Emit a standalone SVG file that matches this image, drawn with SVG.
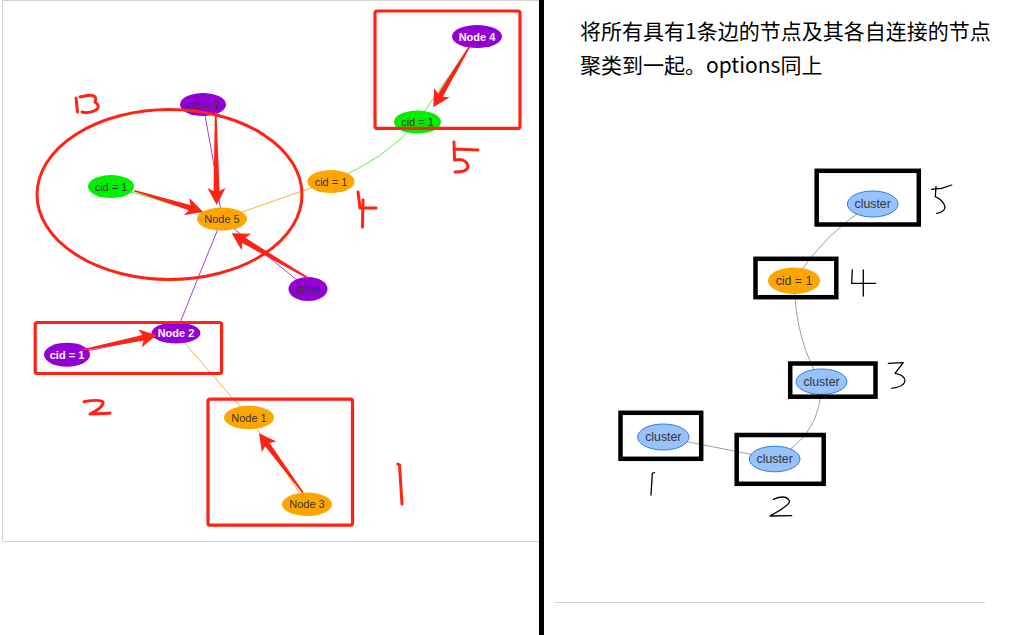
<svg xmlns="http://www.w3.org/2000/svg" width="1022" height="635" viewBox="0 0 1022 635">
<style>
.lbl{font-family:"Liberation Sans",Arial,sans-serif;font-size:11px;text-anchor:middle;fill:#343434}
.wb{fill:#ffffff;font-weight:bold}
.rl{font-family:"Liberation Sans",Arial,sans-serif;font-size:12.3px;text-anchor:middle;fill:#343434}
.or{fill:#ffa500}
.gr{fill:#00ee00}
.pu{fill:#9400d3}
.cl{fill:#97c2fc;stroke:#2b7ce9;stroke-width:1}
.eo{stroke:#ffb030;stroke-width:1;fill:none}
.eg{stroke:#55ee55;stroke-width:1;fill:none}
.ep{stroke:#a040e0;stroke-width:1;fill:none}
.ey{stroke:#a0a0a0;stroke-width:1;fill:none}
.rbox{fill:none;stroke:#ff2215;stroke-width:3.2}
.bbox{fill:none;stroke:#000;stroke-width:4.5}
.arr{fill:#ff2215}
.hr{fill:none;stroke:#ff2215;stroke-width:3;stroke-linecap:round;stroke-linejoin:round}
.hb{fill:none;stroke:#000;stroke-width:1.3;stroke-linecap:round;stroke-linejoin:round}
.txt{font-family:"Noto Sans CJK SC","Microsoft YaHei",sans-serif;font-size:21px;fill:#000}
</style>
<rect width="1022" height="635" fill="#fff"/>
<rect x="2.5" y="0.5" width="538" height="541" fill="none" stroke="#d3d3d3" stroke-width="1"/>
<rect x="539" y="0" width="5" height="635" fill="#000"/>
<line x1="555" y1="602.5" x2="985" y2="602.5" stroke="#d3d3d3" stroke-width="1.2"/>

<g id="connectors">
  <path class="ep" d="M203,104 Q214,160 222,219"/>
  <path class="eg" d="M111,186 L222,219"/>
  <path class="eo" d="M331,181 L222,219"/>
  <path class="eg" d="M331,181 Q385,160 417,122"/>
  <path class="eg" d="M417,122 L477,36"/>
  <path class="ep" d="M222,219 Q195,285 176,333"/>
  <path class="ep" d="M222,219 L308,289"/>
  <path class="ep" d="M67,355 L176,333"/>
  <path class="eo" d="M176,333 L249,417"/>
  <path class="eo" d="M249,417 L307,504"/>
  <path class="ey" d="M872,204 Q825,232 794,281"/>
  <path class="ey" d="M794,281 Q796,345 821.5,381.7"/>
  <path class="ey" d="M821.5,381.7 Q822,435 774.7,459"/>
  <path class="ey" d="M663,437 L774.7,459"/>
</g>

<g id="node4"><ellipse class="pu" cx="477" cy="36.5" rx="25" ry="11.5"/><text class="lbl wb" x="477" y="40.5">Node 4</text></g>
<g id="cid-green-top"><ellipse class="gr" cx="417.5" cy="122" rx="23.5" ry="11.5"/><text class="lbl" x="417.5" y="126">cid = 1</text></g>
<g id="cid-orange-mid"><ellipse class="or" cx="331" cy="181.5" rx="23.5" ry="11.5"/><text class="lbl" x="331" y="185.5">cid = 1</text></g>
<g id="cid-purple-top"><ellipse class="pu" cx="203" cy="104.5" rx="23" ry="11.5"/><text class="lbl" x="203" y="108.5">cid = 1</text></g>
<g id="cid-green-left"><ellipse class="gr" cx="111" cy="186.5" rx="23" ry="11.5"/><text class="lbl" x="111" y="190.5">cid = 1</text></g>
<g id="node5"><ellipse class="or" cx="222" cy="219" rx="25" ry="11.5"/><text class="lbl" x="222" y="223">Node 5</text></g>
<g id="other"><ellipse class="pu" cx="308" cy="289" rx="19.5" ry="12"/><text class="lbl" x="308" y="293">other</text></g>
<g id="node2"><ellipse class="pu" cx="176" cy="333" rx="24.5" ry="10.5"/><text class="lbl wb" x="176" y="337">Node 2</text></g>
<g id="cid-purple-left"><ellipse class="pu" cx="67" cy="354.7" rx="23" ry="12"/><text class="lbl wb" x="67" y="358.7">cid = 1</text></g>
<g id="node1"><ellipse class="or" cx="249" cy="417.5" rx="25" ry="11.7"/><text class="lbl" x="249" y="421.5">Node 1</text></g>
<g id="node3"><ellipse class="or" cx="307" cy="504.3" rx="25" ry="11.7"/><text class="lbl" x="307" y="508.3">Node 3</text></g>

<g id="annotations-left">
  <ellipse cx="169.5" cy="194.5" rx="132.5" ry="85" fill="none" stroke="#ff2215" stroke-width="3"/>
  <rect class="rbox" x="375" y="11" width="145" height="117.3" rx="2"/>
  <rect class="rbox" x="35.2" y="322.5" width="186.4" height="51" rx="2"/>
  <rect class="rbox" x="208" y="399.2" width="144.5" height="126" rx="2"/>
  <path class="arr" transform="translate(469.5,46.5) rotate(120.8)" d="M0,-0.8 L56.8,-2.8 L53.8,-9 L70.8,0 L53.8,9 L56.8,2.8 L0,0.8 Z"/>
  <path class="arr" transform="translate(215.7,112) rotate(89.4)" d="M0,-0.8 L79,-3 L76,-9 L93,0 L76,9 L79,3 L0,0.8 Z"/>
  <path class="arr" transform="translate(134.3,190.7) rotate(17)" d="M0,-0.8 L57.8,-2.8 L54.8,-9 L71.8,0 L54.8,9 L57.8,2.8 L0,0.8 Z"/>
  <path class="arr" transform="translate(308.3,278.3) rotate(210.4)" d="M0,-0.8 L74.8,-3 L71.8,-9.5 L88.8,0 L71.8,9.5 L74.8,3 L0,0.8 Z"/>
  <path class="arr" transform="translate(82.6,350) rotate(-11.4)" d="M0,-0.8 L61.6,-2.8 L58.6,-9 L75.6,0 L58.6,9 L61.6,2.8 L0,0.8 Z"/>
  <path class="arr" transform="translate(303,492.7) rotate(-126.5)" d="M0,-0.8 L59.9,-2.8 L56.9,-9 L73.9,0 L56.9,9 L59.9,2.8 L0,0.8 Z"/>
  <path class="hr" d="M76,98 L77.5,112 M80,97 Q99,92 95,102 Q101,106 96,110 Q89,114 82,112"/>
  <path class="hr" d="M358,192 L360,208 L376,208 M363,200 L362.5,227"/>
  <path class="hr" d="M454.5,149 L478,150 M454,142 L454.5,160 Q466,158 468,166 Q468,172 455,172"/>
  <path class="hr" d="M84,401.7 Q100,399 103,402 Q104,407 90,414 L110,413.3"/>
  <path class="hr" d="M397.7,464 L399.5,465 L402,504"/>
</g>

<text class="txt" x="580" y="39">将所有具有1条边的节点及其各自连接的节点</text>
<text class="txt" x="580" y="73">聚类到一起。options同上</text>

<g id="cluster5"><ellipse class="cl" cx="872.7" cy="204" rx="25.3" ry="13"/><text class="rl" x="872.7" y="208.3">cluster</text></g>
<g id="cid-orange-right"><ellipse class="or" cx="794" cy="280.7" rx="26" ry="13.3"/><text class="rl" x="794" y="285">cid = 1</text></g>
<g id="cluster3"><ellipse class="cl" cx="821.5" cy="381.7" rx="25.5" ry="12.7"/><text class="rl" x="821.5" y="386">cluster</text></g>
<g id="cluster1"><ellipse class="cl" cx="663.3" cy="437" rx="25.7" ry="13"/><text class="rl" x="663.3" y="441.3">cluster</text></g>
<g id="cluster2"><ellipse class="cl" cx="774.7" cy="459" rx="25.3" ry="12.8"/><text class="rl" x="774.7" y="463.3">cluster</text></g>

<g id="annotations-right">
  <rect class="bbox" x="816.7" y="170.8" width="102.1" height="53.7"/>
  <rect class="bbox" x="755.5" y="258.8" width="80.8" height="38.4"/>
  <rect class="bbox" x="790.2" y="363.5" width="85.3" height="33.2"/>
  <rect class="bbox" x="620.5" y="412.8" width="80.7" height="46"/>
  <rect class="bbox" x="736.7" y="435" width="87" height="48.8"/>
  <path class="hb" d="M931.7,189.3 L941.7,188.3 L951.7,185 M936,186.7 L935.3,196.7 Q943,200 945,206.7 Q945,212 936.7,213.3"/>
  <path class="hb" d="M852.3,270 L851.7,283.3 L875.7,283.3 M863.3,270 L863.3,296"/>
  <path class="hb" d="M888.3,363.3 L903.3,362.7 L895,373.3 Q905,375 905,381 Q904,387 891.7,388.3"/>
  <path class="hb" d="M651,495 L652.3,473.3 L654.5,472.5"/>
  <path class="hb" d="M773.3,499.3 Q786,494 789.5,501 Q790,505 770,516 L791.7,515.7"/>
</g>
</svg>
